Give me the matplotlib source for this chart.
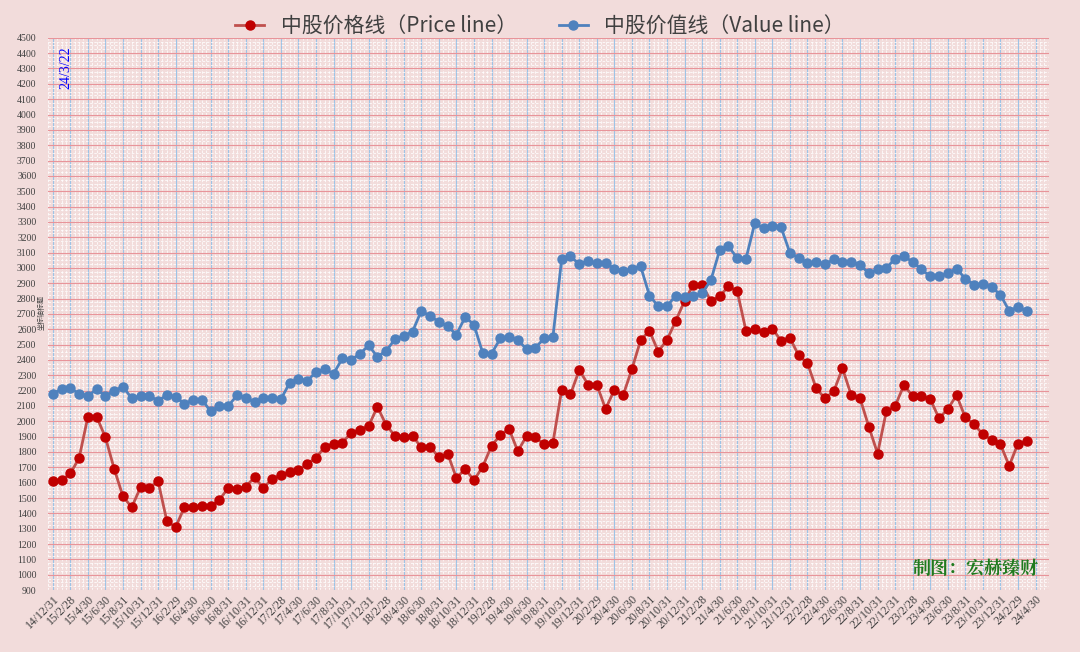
import matplotlib
matplotlib.use("Agg")
import matplotlib.pyplot as plt
from matplotlib.ticker import MultipleLocator
import numpy as np

price = [1610,1615,1660,1760,2030,2030,1895,1690,1510,1440,1570,1565,1610,1350,1310,1440,1440,1445,1445,1490,
         1565,1560,1575,1635,1565,1625,1650,1670,1680,1725,1760,1835,1855,1860,1925,1945,1970,2095,1975,1905,
         1895,1905,1830,1835,1765,1790,1630,1690,1615,1705,1840,1910,1950,1805,1905,1895,1850,1860,2205,2175,
         2335,2240,2240,2080,2205,2170,2340,2530,2590,2455,2530,2655,2785,2890,2890,2785,2815,2880,2850,2590,
         2600,2580,2605,2525,2545,2430,2380,2215,2150,2195,2345,2170,2150,1965,1790,2065,2100,2235,2165,2165,
         2145,2020,2080,2170,2025,1980,1915,1880,1850,1710,1855,1870]
value = [2180,2210,2215,2180,2165,2210,2165,2200,2225,2150,2165,2165,2135,2170,2160,2115,2140,2140,2065,2100,
         2100,2170,2155,2125,2150,2155,2145,2250,2275,2265,2320,2340,2310,2410,2400,2440,2495,2420,2460,2535,
         2555,2585,2720,2685,2650,2620,2565,2680,2630,2445,2440,2540,2550,2530,2470,2480,2540,2550,3060,3075,
         3025,3045,3030,3030,2995,2980,2995,3010,2820,2750,2750,2820,2810,2815,2835,2920,3115,3140,3065,3060,
         3290,3260,3275,3265,3100,3065,3030,3040,3025,3055,3040,3040,3020,2965,2990,3000,3060,3075,3040,2990,
         2945,2945,2965,2995,2930,2890,2895,2875,2825,2720,2745,2720]

# monthly categories 14/12 .. 24/4
months = []
y, m = 2014, 12
mdays = {1:31,2:28,3:31,4:30,5:31,6:30,7:31,8:31,9:30,10:31,11:30,12:31}
for _ in range(113):
    d = mdays[m]
    if m == 2 and y % 4 == 0:
        d = 29
    months.append(f"{y%100}/{m}/{d}")
    m += 1
    if m > 12:
        m = 1; y += 1

plt.rcParams['font.family'] = ['Liberation Serif', 'Noto Sans CJK SC', 'DejaVu Sans']
bg = '#f2dcdb'
fig = plt.figure(figsize=(10.8, 6.52), dpi=100, facecolor=bg)
ax = fig.add_axes([0.044, 0.095, 0.927, 0.847])
ax.set_facecolor(bg)

x = np.arange(len(price))
ax.set_xlim(-0.6, 113.5)
ax.set_ylim(900, 4500)

ax.yaxis.set_minor_locator(MultipleLocator(25))
ax.xaxis.set_minor_locator(MultipleLocator(0.5))
ax.grid(which='minor', color='white', linestyle=(0, (3, 2)), linewidth=0.6, alpha=0.9)
ax.yaxis.set_major_locator(MultipleLocator(100))
ax.set_xticks(np.arange(0, 113, 2))
ax.set_xticklabels(months[::2], rotation=45, ha='right', rotation_mode='anchor', fontsize=8.5, color='#404040')
ax.grid(which='major', axis='y', color='#e8949a', linewidth=0.8)
ax.grid(which='major', axis='x', color='#9dc3e6', linewidth=0.8)
ax.set_axisbelow(True)
ax.tick_params(axis='y', labelsize=7, colors='#404040', length=0, pad=8)
ax.tick_params(axis='x', length=0, pad=2)
ax.tick_params(which='minor', length=0)
for s in ax.spines.values():
    s.set_visible(False)

ax.plot(x, price, color='#c0504d', lw=2.0, marker='o', ms=6.5, mfc='#c00000', mec='#c00000',
        label='中股价格线（Price line）')
ax.plot(x, value, color='#4f81bd', lw=2.0, marker='o', ms=6.5, mfc='#4f81bd', mec='#4f81bd',
        label='中股价值线（Value line）')

leg = fig.legend(loc='upper center', bbox_to_anchor=(0.5, 1.005), ncol=2, frameon=False,
                 prop={'family': ['Noto Sans CJK SC'], 'size': 15}, handlelength=1.4,
                 columnspacing=2.0, labelcolor='#404040')

ax.text(0.012, 0.985, '24/3/22', transform=ax.transAxes, rotation=90, va='top', ha='left',
        color='#0000ff', fontsize=10)
fig.text(0.0385, 0.52, '坐标轴标题', rotation=90, va='center', ha='center', fontsize=5,
         color='#404040', family=['Noto Sans CJK SC'])
ax.text(0.99, 0.02, '制图：宏赫臻财', transform=ax.transAxes, ha='right', va='bottom',
        color='#1e7a1e', fontsize=13, family=['Noto Serif CJK SC', 'Noto Sans CJK SC'], fontweight='bold')

fig.savefig('out.png', dpi=100, facecolor=bg)
